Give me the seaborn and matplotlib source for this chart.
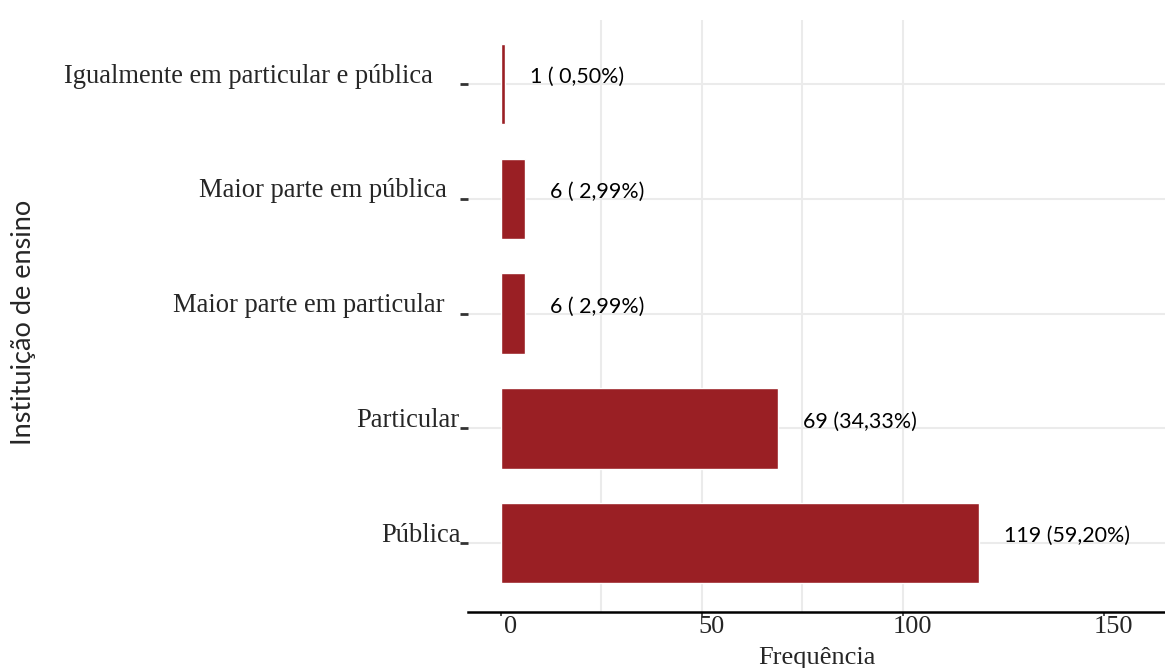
import matplotlib.pyplot as plt
import matplotlib.transforms as mtransforms
import pandas as pd
import seaborn as sns

categorias = [
    'Igualmente em particular e pública',
    'Maior parte em pública',
    'Maior parte em particular',
    'Particular',
    'Pública',
]
frequencias = [1, 6, 6, 69, 119]
x_ticks = [0, 50, 100, 150]
x_grid = [25, 50, 75, 100]

total = sum(frequencias)
rotulos = [
    f'{n} ({n / total * 100:5.2f}%)'.replace('.', ',') for n in frequencias]

df = pd.DataFrame({'categoria': categorias, 'freq': frequencias})

sns.set_style('white')
plt.rcParams['font.family'] = ['Liberation Serif', 'DejaVu Serif']

fig = plt.figure(figsize=(11.65, 6.68), dpi=100)
ax = fig.add_axes([0.4017, 0.0838, 0.5983, 0.8862])

for g in x_grid:
    ax.axvline(g, color='#EBEBEB', lw=1.5, zorder=0)
for i in range(len(categorias)):
    ax.axhline(i, color='#EBEBEB', lw=1.5, zorder=0)

sns.barplot(data=df, y='categoria', x='freq', orient='h', color='#9A1F24',
            saturation=1, width=0.7, ax=ax, zorder=2)

for i, (n, r) in enumerate(zip(frequencias, rotulos)):
    ax.annotate(r, (n, i), xytext=(18, 5), textcoords='offset points',
                ha='left', va='center', fontsize=15.4,
                family=['Lato', 'DejaVu Sans'], color='black')

ax.set_xlim(-8.2, 165.3)
ax.set_ylim(4.60, -0.558)

ax.set_xticks(x_ticks)
ax.set_xticklabels([str(t) for t in x_ticks], fontsize=19)
ax.tick_params(axis='x', length=3, width=1.2, color='#333333', pad=0,
               direction='out', bottom=True)
offset_x = mtransforms.ScaledTranslation(10 / 100, 0, fig.dpi_scale_trans)
for lab in ax.get_xticklabels():
    lab.set_transform(lab.get_transform() + offset_x)

ax.set_yticks(range(len(categorias)))
ax.set_yticklabels(categorias, fontsize=19.1)
ax.tick_params(axis='y', length=6, width=2, color='#333333', pad=0,
               direction='out', left=True)
label_dx = [-27, -13, -15, 0, 1]
for lab, dx in zip(ax.get_yticklabels(), label_dx):
    off = mtransforms.ScaledTranslation(dx / 100, 11 / 100, fig.dpi_scale_trans)
    lab.set_transform(lab.get_transform() + off)

ax.set_xlabel('Frequência', fontsize=19, labelpad=6)
ax.set_ylabel('')
fig.text(0.020, 0.518, 'Instituição de ensino', rotation=90, ha='center',
         va='center', fontsize=19.5, family=['Lato', 'DejaVu Sans'])

for s in ['top', 'right', 'left']:
    ax.spines[s].set_visible(False)
ax.spines['bottom'].set_linewidth(1.8)
ax.spines['bottom'].set_color('black')

fig.savefig('out.png', dpi=100)
